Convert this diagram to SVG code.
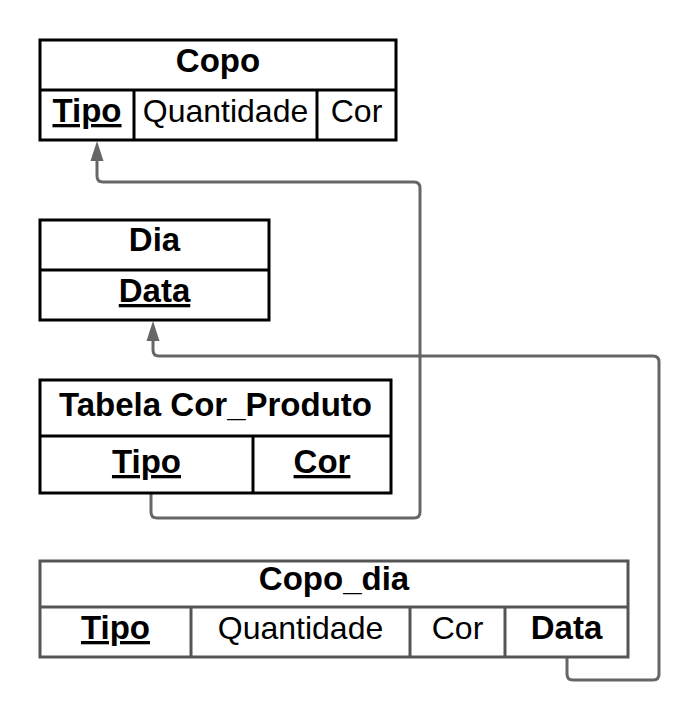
<svg xmlns="http://www.w3.org/2000/svg" width="700" height="720" viewBox="0 0 700 720">
<defs>
<style>
.box{fill:#fff;stroke:#000;stroke-width:3}
.gbox{fill:#fff;stroke:#555;stroke-width:3}
.ln{stroke:#000;stroke-width:3}
.gln{stroke:#555;stroke-width:3}
.t{font-family:"Liberation Sans",Arial,sans-serif;font-size:32px;fill:#000;text-anchor:middle}
.b{font-weight:bold;font-size:33px}
.u{text-decoration:underline}
.con{fill:none;stroke:#666;stroke-width:3;stroke-linejoin:round}
</style>
</defs>
<rect width="700" height="720" fill="#fff"/>
<g id="connectors">
<path class="con" d="M151,493 L151,512 Q151,518 157,518 L414,518 Q420,518 420,512 L420,188 Q420,182 414,182 L103,182 Q97,182 97,176 L97,158"/>
<polygon points="97,141 103.5,161 90.5,161" fill="#666"/>
<path class="con" d="M567,657 L567,674 Q567,680 573,680 L653,680 Q659,680 659,674 L659,362 Q659,356 653,356 L159,356 Q153,356 153,350 L153,338"/>
<polygon points="153,321 159.5,341 146.5,341" fill="#666"/>
</g>
<g id="copo">
<rect class="box" x="40" y="40" width="356" height="100"/>
<line class="ln" x1="40" y1="90" x2="396" y2="90"/>
<line class="ln" x1="134" y1="90" x2="134" y2="140"/>
<line class="ln" x1="317" y1="90" x2="317" y2="140"/>
<text class="t b" x="218" y="72">Copo</text>
<text class="t b u" x="87" y="122">Tipo</text>
<text class="t" x="225.5" y="122">Quantidade</text>
<text class="t" x="356.5" y="122">Cor</text>
</g>
<g id="dia">
<rect class="box" x="40" y="220" width="229" height="100"/>
<line class="ln" x1="40" y1="270" x2="269" y2="270"/>
<text class="t b" x="154.5" y="251">Dia</text>
<text class="t b u" x="154.5" y="302">Data</text>
</g>
<g id="cor_produto">
<rect class="box" x="40" y="380" width="351" height="113"/>
<line class="ln" x1="40" y1="436" x2="391" y2="436"/>
<line class="ln" x1="253" y1="436" x2="253" y2="493"/>
<text class="t b" x="215.5" y="416">Tabela Cor_Produto</text>
<text class="t b u" x="146.5" y="473">Tipo</text>
<text class="t b u" x="322" y="473">Cor</text>
</g>
<g id="copo_dia">
<rect class="gbox" x="40" y="561" width="588" height="96"/>
<line class="gln" x1="40" y1="607" x2="628" y2="607"/>
<line class="gln" x1="191" y1="607" x2="191" y2="657"/>
<line class="gln" x1="410" y1="607" x2="410" y2="657"/>
<line class="gln" x1="505" y1="607" x2="505" y2="657"/>
<text class="t b" x="334" y="590">Copo_dia</text>
<text class="t b u" x="115.5" y="639">Tipo</text>
<text class="t" x="300.5" y="639">Quantidade</text>
<text class="t" x="457.5" y="639">Cor</text>
<text class="t b" x="566.5" y="639">Data</text>
</g>
</svg>
